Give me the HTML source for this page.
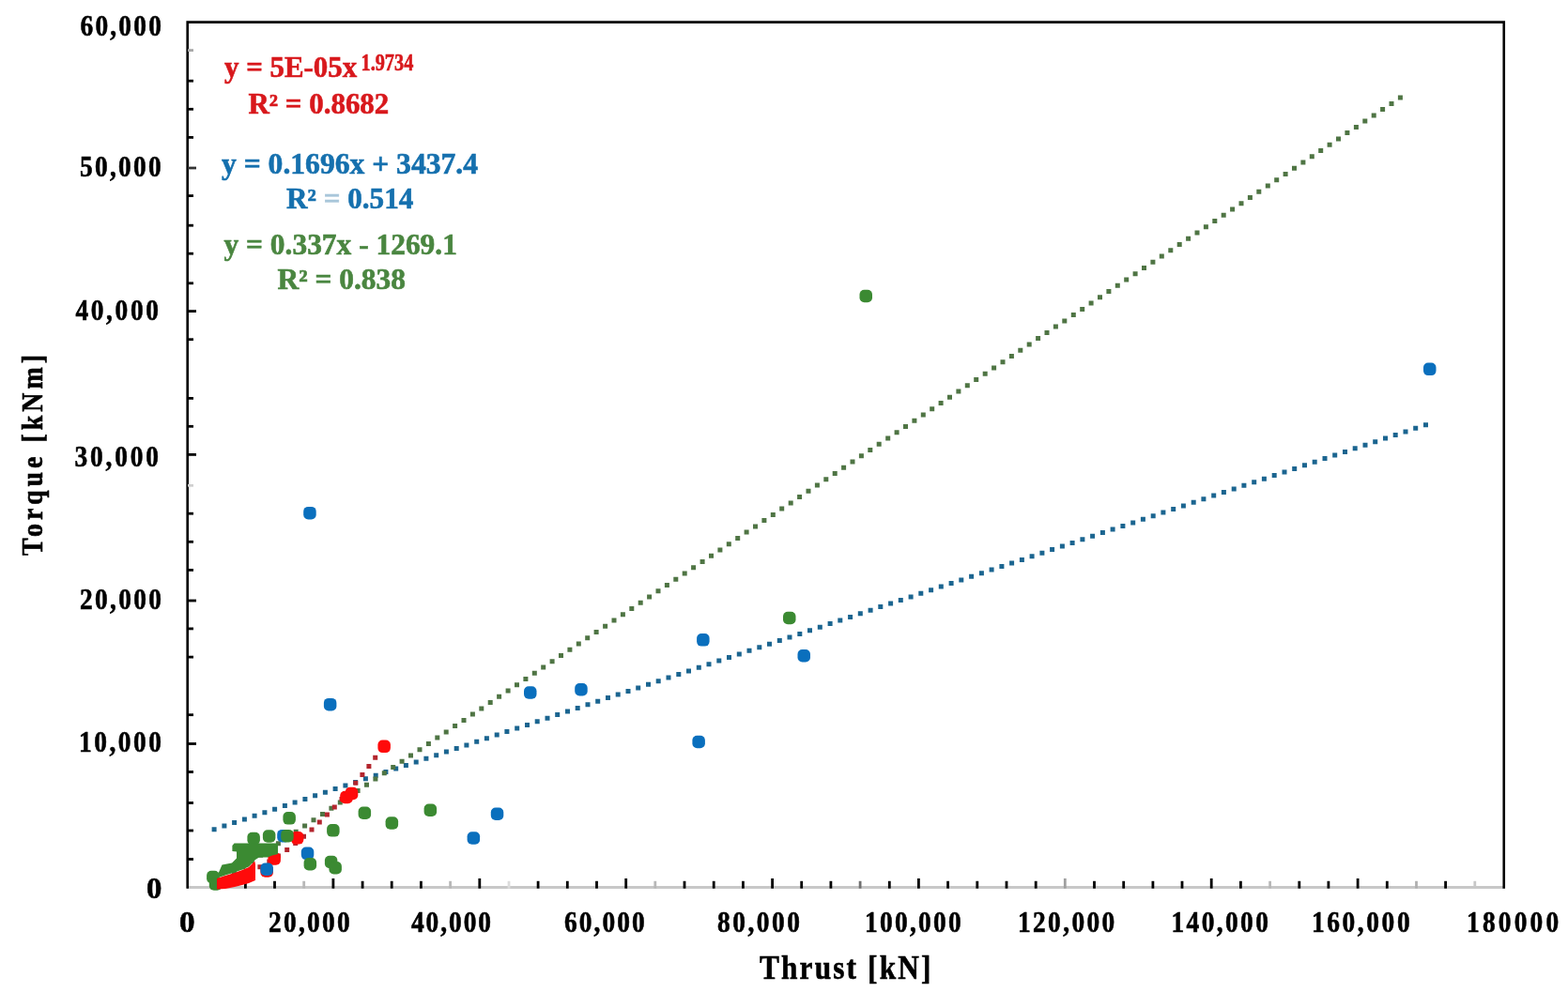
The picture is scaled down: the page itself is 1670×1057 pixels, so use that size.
<!DOCTYPE html>
<html><head><meta charset="utf-8"><title>Torque vs Thrust</title>
<style>html,body{margin:0;padding:0;background:#fff;width:1670px;height:1057px;overflow:hidden}</style>
</head><body>
<svg width="1670" height="1057" viewBox="0 0 1670 1057" style="display:block">
<rect width="1670" height="1057" fill="#fff"/>
<line x1="199" y1="945.5" x2="1602" y2="945.5" stroke="#c8c8c8" stroke-width="2.8"/>
<polyline points="199.7,946.8 199.7,23.65 1601.75,23.65 1601.75,946.8" fill="none" stroke="#000" stroke-width="2.6"/>
<line x1="230.2" y1="938.8" x2="230.2" y2="946.7" stroke="#000" stroke-width="2.8"/>
<line x1="261.4" y1="938.8" x2="261.4" y2="946.7" stroke="#000" stroke-width="2.8"/>
<line x1="292.5" y1="938.8" x2="292.5" y2="946.7" stroke="#000" stroke-width="2.8"/>
<line x1="323.7" y1="938.8" x2="323.7" y2="946.7" stroke="#b8b8b8" stroke-width="2.8"/>
<line x1="354.9" y1="936" x2="354.9" y2="946.7" stroke="#000" stroke-width="2.8"/>
<line x1="386.1" y1="938.8" x2="386.1" y2="946.7" stroke="#000" stroke-width="2.8"/>
<line x1="417.2" y1="938.8" x2="417.2" y2="946.7" stroke="#000" stroke-width="2.8"/>
<line x1="448.4" y1="938.8" x2="448.4" y2="946.7" stroke="#000" stroke-width="2.8"/>
<line x1="479.6" y1="938.8" x2="479.6" y2="946.7" stroke="#b8b8b8" stroke-width="2.8"/>
<line x1="510.8" y1="936" x2="510.8" y2="946.7" stroke="#000" stroke-width="2.8"/>
<line x1="542.0" y1="938.8" x2="542.0" y2="946.7" stroke="#dcdcdc" stroke-width="2.8"/>
<line x1="573.1" y1="938.8" x2="573.1" y2="946.7" stroke="#000" stroke-width="2.8"/>
<line x1="604.3" y1="938.8" x2="604.3" y2="946.7" stroke="#000" stroke-width="2.8"/>
<line x1="635.5" y1="938.8" x2="635.5" y2="946.7" stroke="#000" stroke-width="2.8"/>
<line x1="666.7" y1="936" x2="666.7" y2="946.7" stroke="#000" stroke-width="2.8"/>
<line x1="697.8" y1="938.8" x2="697.8" y2="946.7" stroke="#b8b8b8" stroke-width="2.8"/>
<line x1="729.0" y1="938.8" x2="729.0" y2="946.7" stroke="#000" stroke-width="2.8"/>
<line x1="760.2" y1="938.8" x2="760.2" y2="946.7" stroke="#000" stroke-width="2.8"/>
<line x1="791.4" y1="938.8" x2="791.4" y2="946.7" stroke="#000" stroke-width="2.8"/>
<line x1="822.6" y1="936" x2="822.6" y2="946.7" stroke="#000" stroke-width="2.8"/>
<line x1="853.7" y1="938.8" x2="853.7" y2="946.7" stroke="#000" stroke-width="2.8"/>
<line x1="884.9" y1="938.8" x2="884.9" y2="946.7" stroke="#000" stroke-width="2.8"/>
<line x1="916.1" y1="938.8" x2="916.1" y2="946.7" stroke="#707070" stroke-width="2.8"/>
<line x1="947.3" y1="938.8" x2="947.3" y2="946.7" stroke="#000" stroke-width="2.8"/>
<line x1="978.4" y1="936" x2="978.4" y2="946.7" stroke="#000" stroke-width="2.8"/>
<line x1="1009.6" y1="938.8" x2="1009.6" y2="946.7" stroke="#000" stroke-width="2.8"/>
<line x1="1040.8" y1="938.8" x2="1040.8" y2="946.7" stroke="#000" stroke-width="2.8"/>
<line x1="1072.0" y1="938.8" x2="1072.0" y2="946.7" stroke="#000" stroke-width="2.8"/>
<line x1="1103.2" y1="938.8" x2="1103.2" y2="946.7" stroke="#000" stroke-width="2.8"/>
<line x1="1134.3" y1="936" x2="1134.3" y2="946.7" stroke="#a0a0a0" stroke-width="2.8"/>
<line x1="1165.5" y1="938.8" x2="1165.5" y2="946.7" stroke="#000" stroke-width="2.8"/>
<line x1="1196.7" y1="938.8" x2="1196.7" y2="946.7" stroke="#000" stroke-width="2.8"/>
<line x1="1227.9" y1="938.8" x2="1227.9" y2="946.7" stroke="#000" stroke-width="2.8"/>
<line x1="1259.0" y1="938.8" x2="1259.0" y2="946.7" stroke="#000" stroke-width="2.8"/>
<line x1="1290.2" y1="936" x2="1290.2" y2="946.7" stroke="#000" stroke-width="2.8"/>
<line x1="1321.4" y1="938.8" x2="1321.4" y2="946.7" stroke="#000" stroke-width="2.8"/>
<line x1="1352.6" y1="938.8" x2="1352.6" y2="946.7" stroke="#b8b8b8" stroke-width="2.8"/>
<line x1="1383.8" y1="938.8" x2="1383.8" y2="946.7" stroke="#000" stroke-width="2.8"/>
<line x1="1414.9" y1="938.8" x2="1414.9" y2="946.7" stroke="#000" stroke-width="2.8"/>
<line x1="1446.1" y1="936" x2="1446.1" y2="946.7" stroke="#000" stroke-width="2.8"/>
<line x1="1477.3" y1="938.8" x2="1477.3" y2="946.7" stroke="#000" stroke-width="2.8"/>
<line x1="1508.5" y1="938.8" x2="1508.5" y2="946.7" stroke="#b0b0b0" stroke-width="2.8"/>
<line x1="1539.6" y1="938.8" x2="1539.6" y2="946.7" stroke="#000" stroke-width="2.8"/>
<line x1="1570.8" y1="938.8" x2="1570.8" y2="946.7" stroke="#c8c8c8" stroke-width="2.8"/>
<line x1="200" y1="915.5" x2="206" y2="915.5" stroke="#000" stroke-width="2.8"/>
<line x1="200" y1="885.0" x2="206" y2="885.0" stroke="#000" stroke-width="2.8"/>
<line x1="200" y1="855.5" x2="206" y2="855.5" stroke="#000" stroke-width="2.8"/>
<line x1="200" y1="822.5" x2="206" y2="822.5" stroke="#000" stroke-width="2.8"/>
<line x1="200" y1="761.7" x2="206" y2="761.7" stroke="#000" stroke-width="2.8"/>
<line x1="200" y1="700.1" x2="206" y2="700.1" stroke="#000" stroke-width="2.8"/>
<line x1="200" y1="669.9" x2="206" y2="669.9" stroke="#000" stroke-width="2.8"/>
<line x1="200" y1="640.0" x2="209" y2="640.0" stroke="#000" stroke-width="2.8"/>
<line x1="200" y1="607.4" x2="206" y2="607.4" stroke="#000" stroke-width="2.8"/>
<line x1="200" y1="577.3" x2="206" y2="577.3" stroke="#000" stroke-width="2.8"/>
<line x1="200" y1="547.2" x2="206" y2="547.2" stroke="#000" stroke-width="2.8"/>
<line x1="200" y1="517.3" x2="206" y2="517.3" stroke="#d0d0d0" stroke-width="2.8"/>
<line x1="200" y1="484.4" x2="209" y2="484.4" stroke="#000" stroke-width="2.8"/>
<line x1="200" y1="454.3" x2="206" y2="454.3" stroke="#000" stroke-width="2.8"/>
<line x1="200" y1="424.4" x2="206" y2="424.4" stroke="#000" stroke-width="2.8"/>
<line x1="200" y1="361.7" x2="206" y2="361.7" stroke="#000" stroke-width="2.8"/>
<line x1="200" y1="331.6" x2="209" y2="331.6" stroke="#000" stroke-width="2.8"/>
<line x1="200" y1="301.8" x2="206" y2="301.8" stroke="#000" stroke-width="2.8"/>
<line x1="200" y1="270.2" x2="206" y2="270.2" stroke="#000" stroke-width="2.8"/>
<line x1="200" y1="240.2" x2="206" y2="240.2" stroke="#000" stroke-width="2.8"/>
<line x1="200" y1="208.6" x2="206" y2="208.6" stroke="#000" stroke-width="2.8"/>
<line x1="200" y1="179.0" x2="209" y2="179.0" stroke="#333" stroke-width="2.8"/>
<line x1="200" y1="146.4" x2="206" y2="146.4" stroke="#000" stroke-width="2.8"/>
<line x1="200" y1="116.3" x2="206" y2="116.3" stroke="#000" stroke-width="2.8"/>
<line x1="200" y1="86.2" x2="206" y2="86.2" stroke="#000" stroke-width="2.8"/>
<line x1="200" y1="53.6" x2="206" y2="53.6" stroke="#a8a8a8" stroke-width="2.8"/>
<line x1="200" y1="792.5" x2="209" y2="792.5" stroke="#000" stroke-width="2.8"/>
<path d="M225.6 881.2h5.0v5.0h-5.0zM236.4 877.6h5.0v5.0h-5.0zM247.1 874.0h5.0v5.0h-5.0zM257.9 870.4h5.0v5.0h-5.0zM268.6 866.8h5.0v5.0h-5.0zM279.4 863.2h5.0v5.0h-5.0zM290.1 859.7h5.0v5.0h-5.0zM300.9 856.1h5.0v5.0h-5.0zM311.6 852.5h5.0v5.0h-5.0zM322.4 848.9h5.0v5.0h-5.0zM333.1 845.3h5.0v5.0h-5.0zM343.9 841.7h5.0v5.0h-5.0zM354.6 838.1h5.0v5.0h-5.0zM365.4 834.5h5.0v5.0h-5.0zM376.1 830.9h5.0v5.0h-5.0zM386.9 827.3h5.0v5.0h-5.0zM397.7 823.7h5.0v5.0h-5.0zM408.4 820.1h5.0v5.0h-5.0zM419.2 816.6h5.0v5.0h-5.0zM429.9 813.0h5.0v5.0h-5.0zM440.7 809.4h5.0v5.0h-5.0zM451.4 805.8h5.0v5.0h-5.0zM462.2 802.2h5.0v5.0h-5.0zM472.9 798.6h5.0v5.0h-5.0zM483.7 795.0h5.0v5.0h-5.0zM494.4 791.4h5.0v5.0h-5.0zM505.2 787.8h5.0v5.0h-5.0zM515.9 784.2h5.0v5.0h-5.0zM526.7 780.6h5.0v5.0h-5.0zM537.4 777.0h5.0v5.0h-5.0zM548.2 773.5h5.0v5.0h-5.0zM559.0 769.9h5.0v5.0h-5.0zM569.7 766.3h5.0v5.0h-5.0zM580.5 762.7h5.0v5.0h-5.0zM591.2 759.1h5.0v5.0h-5.0zM602.0 755.5h5.0v5.0h-5.0zM612.7 751.9h5.0v5.0h-5.0zM623.5 748.3h5.0v5.0h-5.0zM634.2 744.7h5.0v5.0h-5.0zM645.0 741.1h5.0v5.0h-5.0zM655.7 737.5h5.0v5.0h-5.0zM666.5 733.9h5.0v5.0h-5.0zM677.2 730.4h5.0v5.0h-5.0zM688.0 726.8h5.0v5.0h-5.0zM698.7 723.2h5.0v5.0h-5.0zM709.5 719.6h5.0v5.0h-5.0zM720.3 716.0h5.0v5.0h-5.0zM731.0 712.4h5.0v5.0h-5.0zM741.8 708.8h5.0v5.0h-5.0zM752.5 705.2h5.0v5.0h-5.0zM763.3 701.6h5.0v5.0h-5.0zM774.0 698.0h5.0v5.0h-5.0zM784.8 694.4h5.0v5.0h-5.0zM795.5 690.8h5.0v5.0h-5.0zM806.3 687.2h5.0v5.0h-5.0zM817.0 683.7h5.0v5.0h-5.0zM827.8 680.1h5.0v5.0h-5.0zM838.5 676.5h5.0v5.0h-5.0zM849.3 672.9h5.0v5.0h-5.0zM860.0 669.3h5.0v5.0h-5.0zM870.8 665.7h5.0v5.0h-5.0zM881.6 662.1h5.0v5.0h-5.0zM892.3 658.5h5.0v5.0h-5.0zM903.1 654.9h5.0v5.0h-5.0zM913.8 651.3h5.0v5.0h-5.0zM924.6 647.7h5.0v5.0h-5.0zM935.3 644.1h5.0v5.0h-5.0zM946.1 640.6h5.0v5.0h-5.0zM956.8 637.0h5.0v5.0h-5.0zM967.6 633.4h5.0v5.0h-5.0zM978.3 629.8h5.0v5.0h-5.0zM989.1 626.2h5.0v5.0h-5.0zM999.8 622.6h5.0v5.0h-5.0zM1010.6 619.0h5.0v5.0h-5.0zM1021.3 615.4h5.0v5.0h-5.0zM1032.1 611.8h5.0v5.0h-5.0zM1042.9 608.2h5.0v5.0h-5.0zM1053.6 604.6h5.0v5.0h-5.0zM1064.4 601.0h5.0v5.0h-5.0zM1075.1 597.5h5.0v5.0h-5.0zM1085.9 593.9h5.0v5.0h-5.0zM1096.6 590.3h5.0v5.0h-5.0zM1107.4 586.7h5.0v5.0h-5.0zM1118.1 583.1h5.0v5.0h-5.0zM1128.9 579.5h5.0v5.0h-5.0zM1139.6 575.9h5.0v5.0h-5.0zM1150.4 572.3h5.0v5.0h-5.0zM1161.1 568.7h5.0v5.0h-5.0zM1171.9 565.1h5.0v5.0h-5.0zM1182.6 561.5h5.0v5.0h-5.0zM1193.4 558.0h5.0v5.0h-5.0zM1204.2 554.4h5.0v5.0h-5.0zM1214.9 550.8h5.0v5.0h-5.0zM1225.7 547.2h5.0v5.0h-5.0zM1236.4 543.6h5.0v5.0h-5.0zM1247.2 540.0h5.0v5.0h-5.0zM1257.9 536.4h5.0v5.0h-5.0zM1268.7 532.8h5.0v5.0h-5.0zM1279.4 529.2h5.0v5.0h-5.0zM1290.2 525.6h5.0v5.0h-5.0zM1300.9 522.0h5.0v5.0h-5.0zM1311.7 518.4h5.0v5.0h-5.0zM1322.4 514.8h5.0v5.0h-5.0zM1333.2 511.3h5.0v5.0h-5.0zM1343.9 507.7h5.0v5.0h-5.0zM1354.7 504.1h5.0v5.0h-5.0zM1365.5 500.5h5.0v5.0h-5.0zM1376.2 496.9h5.0v5.0h-5.0zM1387.0 493.3h5.0v5.0h-5.0zM1397.7 489.7h5.0v5.0h-5.0zM1408.5 486.1h5.0v5.0h-5.0zM1419.2 482.5h5.0v5.0h-5.0zM1430.0 478.9h5.0v5.0h-5.0zM1440.7 475.3h5.0v5.0h-5.0zM1451.5 471.8h5.0v5.0h-5.0zM1462.2 468.2h5.0v5.0h-5.0zM1473.0 464.6h5.0v5.0h-5.0zM1483.7 461.0h5.0v5.0h-5.0zM1494.5 457.4h5.0v5.0h-5.0zM1505.2 453.8h5.0v5.0h-5.0zM1516.0 450.2h5.0v5.0h-5.0z" fill="#1b6590"/>
<path d="M1488.9 101.6h5.0v5.0h-5.0zM1479.5 107.9h5.0v5.0h-5.0zM1470.1 114.1h5.0v5.0h-5.0zM1460.7 120.4h5.0v5.0h-5.0zM1451.3 126.6h5.0v5.0h-5.0zM1441.9 132.9h5.0v5.0h-5.0zM1432.4 139.1h5.0v5.0h-5.0zM1423.0 145.4h5.0v5.0h-5.0zM1413.6 151.7h5.0v5.0h-5.0zM1404.2 157.9h5.0v5.0h-5.0zM1394.8 164.2h5.0v5.0h-5.0zM1385.4 170.4h5.0v5.0h-5.0zM1376.0 176.7h5.0v5.0h-5.0zM1366.6 182.9h5.0v5.0h-5.0zM1357.2 189.2h5.0v5.0h-5.0zM1347.8 195.5h5.0v5.0h-5.0zM1338.3 201.7h5.0v5.0h-5.0zM1328.9 208.0h5.0v5.0h-5.0zM1319.5 214.2h5.0v5.0h-5.0zM1310.1 220.5h5.0v5.0h-5.0zM1300.7 226.7h5.0v5.0h-5.0zM1291.3 233.0h5.0v5.0h-5.0zM1281.9 239.3h5.0v5.0h-5.0zM1272.5 245.5h5.0v5.0h-5.0zM1263.1 251.8h5.0v5.0h-5.0zM1253.7 258.0h5.0v5.0h-5.0zM1244.3 264.3h5.0v5.0h-5.0zM1234.8 270.5h5.0v5.0h-5.0zM1225.4 276.8h5.0v5.0h-5.0zM1216.0 283.1h5.0v5.0h-5.0zM1206.6 289.3h5.0v5.0h-5.0zM1197.2 295.6h5.0v5.0h-5.0zM1187.8 301.8h5.0v5.0h-5.0zM1178.4 308.1h5.0v5.0h-5.0zM1169.0 314.3h5.0v5.0h-5.0zM1159.6 320.6h5.0v5.0h-5.0zM1150.2 326.9h5.0v5.0h-5.0zM1140.8 333.1h5.0v5.0h-5.0zM1131.3 339.4h5.0v5.0h-5.0zM1121.9 345.6h5.0v5.0h-5.0zM1112.5 351.9h5.0v5.0h-5.0zM1103.1 358.1h5.0v5.0h-5.0zM1093.7 364.4h5.0v5.0h-5.0zM1084.3 370.7h5.0v5.0h-5.0zM1074.9 376.9h5.0v5.0h-5.0zM1065.5 383.2h5.0v5.0h-5.0zM1056.1 389.4h5.0v5.0h-5.0zM1046.7 395.7h5.0v5.0h-5.0zM1037.2 401.9h5.0v5.0h-5.0zM1027.8 408.2h5.0v5.0h-5.0zM1018.4 414.5h5.0v5.0h-5.0zM1009.0 420.7h5.0v5.0h-5.0zM999.6 427.0h5.0v5.0h-5.0zM990.2 433.2h5.0v5.0h-5.0zM980.8 439.5h5.0v5.0h-5.0zM971.4 445.7h5.0v5.0h-5.0zM962.0 452.0h5.0v5.0h-5.0zM952.6 458.3h5.0v5.0h-5.0zM943.2 464.5h5.0v5.0h-5.0zM933.7 470.8h5.0v5.0h-5.0zM924.3 477.0h5.0v5.0h-5.0zM914.9 483.3h5.0v5.0h-5.0zM905.5 489.5h5.0v5.0h-5.0zM896.1 495.8h5.0v5.0h-5.0zM886.7 502.1h5.0v5.0h-5.0zM877.3 508.3h5.0v5.0h-5.0zM867.9 514.6h5.0v5.0h-5.0zM858.5 520.8h5.0v5.0h-5.0zM849.1 527.1h5.0v5.0h-5.0zM839.7 533.4h5.0v5.0h-5.0zM830.2 539.6h5.0v5.0h-5.0zM820.8 545.9h5.0v5.0h-5.0zM811.4 552.1h5.0v5.0h-5.0zM802.0 558.4h5.0v5.0h-5.0zM792.6 564.6h5.0v5.0h-5.0zM783.2 570.9h5.0v5.0h-5.0zM773.8 577.2h5.0v5.0h-5.0zM764.4 583.4h5.0v5.0h-5.0zM755.0 589.7h5.0v5.0h-5.0zM745.6 595.9h5.0v5.0h-5.0zM736.1 602.2h5.0v5.0h-5.0zM726.7 608.4h5.0v5.0h-5.0zM717.3 614.7h5.0v5.0h-5.0zM707.9 621.0h5.0v5.0h-5.0zM698.5 627.2h5.0v5.0h-5.0zM689.1 633.5h5.0v5.0h-5.0zM679.7 639.7h5.0v5.0h-5.0zM670.3 646.0h5.0v5.0h-5.0zM660.9 652.2h5.0v5.0h-5.0zM651.5 658.5h5.0v5.0h-5.0zM642.1 664.8h5.0v5.0h-5.0zM632.6 671.0h5.0v5.0h-5.0zM623.2 677.3h5.0v5.0h-5.0zM613.8 683.5h5.0v5.0h-5.0zM604.4 689.8h5.0v5.0h-5.0zM595.0 696.0h5.0v5.0h-5.0zM585.6 702.3h5.0v5.0h-5.0zM576.2 708.6h5.0v5.0h-5.0zM566.8 714.8h5.0v5.0h-5.0zM557.4 721.1h5.0v5.0h-5.0zM548.0 727.3h5.0v5.0h-5.0zM538.6 733.6h5.0v5.0h-5.0zM529.1 739.8h5.0v5.0h-5.0zM519.7 746.1h5.0v5.0h-5.0zM510.3 752.4h5.0v5.0h-5.0zM500.9 758.6h5.0v5.0h-5.0zM491.5 764.9h5.0v5.0h-5.0zM482.1 771.1h5.0v5.0h-5.0zM472.7 777.4h5.0v5.0h-5.0zM463.3 783.6h5.0v5.0h-5.0zM453.9 789.9h5.0v5.0h-5.0zM444.5 796.2h5.0v5.0h-5.0zM435.0 802.4h5.0v5.0h-5.0zM425.6 808.7h5.0v5.0h-5.0zM416.2 814.9h5.0v5.0h-5.0zM406.8 821.2h5.0v5.0h-5.0zM397.4 827.4h5.0v5.0h-5.0zM388.0 833.7h5.0v5.0h-5.0zM378.6 840.0h5.0v5.0h-5.0zM369.2 846.2h5.0v5.0h-5.0zM359.8 852.5h5.0v5.0h-5.0zM350.4 858.7h5.0v5.0h-5.0zM341.0 865.0h5.0v5.0h-5.0zM331.5 871.2h5.0v5.0h-5.0zM322.1 877.5h5.0v5.0h-5.0zM312.7 883.8h5.0v5.0h-5.0zM303.3 890.0h5.0v5.0h-5.0zM293.9 896.3h5.0v5.0h-5.0zM284.5 902.5h5.0v5.0h-5.0zM275.1 908.8h5.0v5.0h-5.0zM265.7 915.0h5.0v5.0h-5.0zM256.3 921.3h5.0v5.0h-5.0zM246.9 927.6h5.0v5.0h-5.0zM237.4 933.8h5.0v5.0h-5.0z" fill="#4f7544"/>
<path d="M397.2 804.8h5.0v5.0h-5.0zM390.4 813.9h5.0v5.0h-5.0zM383.4 822.9h5.0v5.0h-5.0zM376.3 831.7h5.0v5.0h-5.0zM369.0 840.4h5.0v5.0h-5.0zM361.5 849.0h5.0v5.0h-5.0zM353.8 857.4h5.0v5.0h-5.0zM345.9 865.6h5.0v5.0h-5.0zM337.8 873.6h5.0v5.0h-5.0zM329.5 881.4h5.0v5.0h-5.0zM321.0 888.8h5.0v5.0h-5.0zM312.2 896.1h5.0v5.0h-5.0zM303.2 902.9h5.0v5.0h-5.0zM293.9 909.4h5.0v5.0h-5.0zM284.3 915.6h5.0v5.0h-5.0zM274.4 921.2h5.0v5.0h-5.0zM264.3 926.3h5.0v5.0h-5.0zM253.9 930.9h5.0v5.0h-5.0zM243.2 934.8h5.0v5.0h-5.0zM232.3 937.9h5.0v5.0h-5.0z" fill="#b3262e"/>
<rect x="277.4" y="921.2" width="13.5" height="13.5" rx="5" fill="#ff0a0a"/>
<rect x="285.4" y="908.2" width="13.5" height="13.5" rx="5" fill="#ff0a0a"/>
<rect x="402.4" y="788.6" width="13.5" height="13.5" rx="5" fill="#ff0a0a"/>
<rect x="362.2" y="842.8" width="13.5" height="13.5" rx="5" fill="#ff0a0a"/>
<rect x="367.8" y="838.8" width="13.5" height="13.5" rx="5" fill="#ff0a0a"/>
<rect x="309.9" y="886.1" width="13.5" height="13.5" rx="5" fill="#ff0a0a"/>
<rect x="295.2" y="883.9" width="13.5" height="13.5" rx="5" fill="#0a6fbd"/>
<rect x="220.1" y="927.8" width="13.5" height="13.5" rx="5" fill="#3b8a32"/>
<rect x="222.8" y="935.2" width="13.5" height="13.5" rx="5" fill="#3b8a32"/>
<rect x="263.4" y="886.8" width="13.5" height="13.5" rx="5" fill="#3b8a32"/>
<rect x="279.9" y="884.2" width="13.5" height="13.5" rx="5" fill="#3b8a32"/>
<rect x="299.2" y="883.9" width="13.5" height="13.5" rx="5" fill="#3b8a32"/>
<polygon points="249.5,898.5 296,898.5 296,910 290,911.5 285,913.5 276,913.5 272,916 265,923.5 258,926.5 250,929.5 240,932.5 233,935 231,934 236.5,921.5 247,919.5 252,914.5 252,907.5 247.4,907 247.4,901" fill="#3b8a32"/>
<polygon points="231,936 240,933 250,930 258,927 265,924 271.3,917.4 272,921 272,938 265,941 258,943 250,945 240,947 231,947.5" fill="#ff0a0a"/>
<rect x="323.2" y="539.9" width="13.5" height="13.5" rx="5" fill="#0a6fbd"/>
<rect x="344.9" y="743.9" width="13.5" height="13.5" rx="5" fill="#0a6fbd"/>
<rect x="320.8" y="902.6" width="13.5" height="13.5" rx="5" fill="#0a6fbd"/>
<rect x="277.4" y="919.5" width="13.5" height="13.5" rx="5" fill="#0a6fbd"/>
<rect x="497.6" y="886.2" width="13.5" height="13.5" rx="5" fill="#0a6fbd"/>
<rect x="522.8" y="860.5" width="13.5" height="13.5" rx="5" fill="#0a6fbd"/>
<rect x="558.0" y="731.2" width="13.5" height="13.5" rx="5" fill="#0a6fbd"/>
<rect x="612.2" y="728.0" width="13.5" height="13.5" rx="5" fill="#0a6fbd"/>
<rect x="737.4" y="783.8" width="13.5" height="13.5" rx="5" fill="#0a6fbd"/>
<rect x="742.1" y="675.1" width="13.5" height="13.5" rx="5" fill="#0a6fbd"/>
<rect x="849.5" y="692.0" width="13.5" height="13.5" rx="5" fill="#0a6fbd"/>
<rect x="1516.0" y="386.6" width="13.5" height="13.5" rx="5" fill="#0a6fbd"/>
<rect x="915.5" y="308.8" width="13.5" height="13.5" rx="5" fill="#3b8a32"/>
<rect x="834.0" y="651.8" width="13.5" height="13.5" rx="5" fill="#3b8a32"/>
<rect x="451.6" y="856.5" width="13.5" height="13.5" rx="5" fill="#3b8a32"/>
<rect x="410.6" y="870.2" width="13.5" height="13.5" rx="5" fill="#3b8a32"/>
<rect x="381.6" y="859.5" width="13.5" height="13.5" rx="5" fill="#3b8a32"/>
<rect x="348.1" y="878.1" width="13.5" height="13.5" rx="5" fill="#3b8a32"/>
<rect x="301.4" y="865.1" width="13.5" height="13.5" rx="5" fill="#3b8a32"/>
<rect x="345.9" y="911.8" width="13.5" height="13.5" rx="5" fill="#3b8a32"/>
<rect x="350.4" y="918.0" width="13.5" height="13.5" rx="5" fill="#3b8a32"/>
<rect x="323.6" y="914.0" width="13.5" height="13.5" rx="5" fill="#3b8a32"/>
<text transform="translate(85.50,38.00) scale(0.87,1)" font-family="Liberation Serif, Times New Roman, serif" font-weight="bold" font-size="31.5" fill="#000" stroke="#000" stroke-width="0.6" textLength="99.31" lengthAdjust="spacing">60,000</text>
<text transform="translate(85.00,187.50) scale(0.87,1)" font-family="Liberation Serif, Times New Roman, serif" font-weight="bold" font-size="31.5" fill="#000" stroke="#000" stroke-width="0.6" textLength="99.54" lengthAdjust="spacing">50,000</text>
<text transform="translate(80.50,340.50) scale(0.87,1)" font-family="Liberation Serif, Times New Roman, serif" font-weight="bold" font-size="31.5" fill="#000" stroke="#000" stroke-width="0.6" textLength="101.61" lengthAdjust="spacing">40,000</text>
<text transform="translate(79.50,496.50) scale(0.87,1)" font-family="Liberation Serif, Times New Roman, serif" font-weight="bold" font-size="31.5" fill="#000" stroke="#000" stroke-width="0.6" textLength="102.76" lengthAdjust="spacing">30,000</text>
<text transform="translate(85.00,648.50) scale(0.87,1)" font-family="Liberation Serif, Times New Roman, serif" font-weight="bold" font-size="31.5" fill="#000" stroke="#000" stroke-width="0.6" textLength="100.00" lengthAdjust="spacing">20,000</text>
<text transform="translate(84.00,801.00) scale(0.87,1)" font-family="Liberation Serif, Times New Roman, serif" font-weight="bold" font-size="31.5" fill="#000" stroke="#000" stroke-width="0.6" textLength="101.15" lengthAdjust="spacing">10,000</text>
<text x="156.00" y="956.50" font-family="Liberation Serif, Times New Roman, serif" font-weight="bold" font-size="31.5" fill="#000" stroke="#000" stroke-width="0.6" textLength="16.40" lengthAdjust="spacingAndGlyphs">0</text>
<text x="191.00" y="992.60" font-family="Liberation Serif, Times New Roman, serif" font-weight="bold" font-size="31.5" fill="#000" stroke="#000" stroke-width="0.6" textLength="16.60" lengthAdjust="spacingAndGlyphs">0</text>
<text transform="translate(286.00,992.60) scale(0.87,1)" font-family="Liberation Serif, Times New Roman, serif" font-weight="bold" font-size="31.5" fill="#000" stroke="#000" stroke-width="0.6" textLength="99.54" lengthAdjust="spacing">20,000</text>
<text transform="translate(438.00,992.60) scale(0.87,1)" font-family="Liberation Serif, Times New Roman, serif" font-weight="bold" font-size="31.5" fill="#000" stroke="#000" stroke-width="0.6" textLength="97.70" lengthAdjust="spacing">40,000</text>
<text transform="translate(601.00,992.60) scale(0.87,1)" font-family="Liberation Serif, Times New Roman, serif" font-weight="bold" font-size="31.5" fill="#000" stroke="#000" stroke-width="0.6" textLength="98.62" lengthAdjust="spacing">60,000</text>
<text transform="translate(764.00,992.60) scale(0.87,1)" font-family="Liberation Serif, Times New Roman, serif" font-weight="bold" font-size="31.5" fill="#000" stroke="#000" stroke-width="0.6" textLength="101.15" lengthAdjust="spacing">80,000</text>
<text transform="translate(921.00,992.60) scale(0.87,1)" font-family="Liberation Serif, Times New Roman, serif" font-weight="bold" font-size="31.5" fill="#000" stroke="#000" stroke-width="0.6" textLength="118.16" lengthAdjust="spacing">100,000</text>
<text transform="translate(1084.00,992.60) scale(0.87,1)" font-family="Liberation Serif, Times New Roman, serif" font-weight="bold" font-size="31.5" fill="#000" stroke="#000" stroke-width="0.6" textLength="118.62" lengthAdjust="spacing">120,000</text>
<text transform="translate(1247.50,992.60) scale(0.87,1)" font-family="Liberation Serif, Times New Roman, serif" font-weight="bold" font-size="31.5" fill="#000" stroke="#000" stroke-width="0.6" textLength="118.85" lengthAdjust="spacing">140,000</text>
<text transform="translate(1397.00,992.60) scale(0.87,1)" font-family="Liberation Serif, Times New Roman, serif" font-weight="bold" font-size="31.5" fill="#000" stroke="#000" stroke-width="0.6" textLength="120.23" lengthAdjust="spacing">160,000</text>
<text transform="translate(1562.00,992.60) scale(0.87,1)" font-family="Liberation Serif, Times New Roman, serif" font-weight="bold" font-size="31.5" fill="#000" stroke="#000" stroke-width="0.6" textLength="112.87" lengthAdjust="spacing">180000</text>
<text transform="translate(809.00,1043.20) scale(0.87,1)" font-family="Liberation Serif, Times New Roman, serif" font-weight="bold" font-size="36" fill="#000" stroke="#000" stroke-width="0.6" textLength="209.66" lengthAdjust="spacing">Thrust [kN]</text>
<text x="239.00" y="82.00" font-family="Liberation Serif, Times New Roman, serif" font-weight="bold" font-size="31" fill="#d8181c" stroke="#d8181c" stroke-width="0.6" textLength="141.20" lengthAdjust="spacingAndGlyphs">y = 5E-05x</text>
<text x="384.50" y="75.00" font-family="Liberation Serif, Times New Roman, serif" font-weight="bold" font-size="25" fill="#d8181c" stroke="#d8181c" stroke-width="0.6" textLength="55.80" lengthAdjust="spacingAndGlyphs">1.9734</text>
<text x="264.50" y="121.00" font-family="Liberation Serif, Times New Roman, serif" font-weight="bold" font-size="31" fill="#d8181c" stroke="#d8181c" stroke-width="0.6" textLength="149.80" lengthAdjust="spacingAndGlyphs">R² = 0.8682</text>
<text x="236.00" y="185.00" font-family="Liberation Serif, Times New Roman, serif" font-weight="bold" font-size="31" fill="#1570ae" stroke="#1570ae" stroke-width="0.6" textLength="273.00" lengthAdjust="spacingAndGlyphs">y = 0.1696x + 3437.4</text>
<text x="305.00" y="221.50" font-family="Liberation Serif, Times New Roman, serif" font-weight="bold" font-size="31" fill="#1570ae" stroke="#1570ae" stroke-width="0.6" textLength="135.40" lengthAdjust="spacingAndGlyphs">R² <tspan fill="#a9c6da" stroke="#a9c6da">=</tspan> 0.514</text>
<text x="238.50" y="270.50" font-family="Liberation Serif, Times New Roman, serif" font-weight="bold" font-size="31" fill="#4a8640" stroke="#4a8640" stroke-width="0.6" textLength="248.40" lengthAdjust="spacingAndGlyphs">y = 0.337x - 1269.1</text>
<text x="295.50" y="308.00" font-family="Liberation Serif, Times New Roman, serif" font-weight="bold" font-size="31" fill="#4a8640" stroke="#4a8640" stroke-width="0.6" textLength="136.40" lengthAdjust="spacingAndGlyphs">R² = 0.838</text>
<text transform="translate(45.00,592.00) rotate(-90) scale(0.86,1)" font-family="Liberation Serif, Times New Roman, serif" font-weight="bold" font-size="32.5" textLength="248.84" lengthAdjust="spacing" stroke="#000" stroke-width="0.6">Torque [kNm]</text>
</svg>
</body></html>
